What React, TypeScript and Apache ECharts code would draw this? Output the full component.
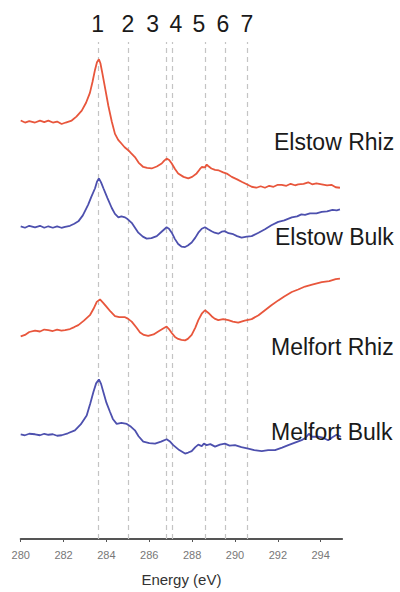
import React, { useEffect, useRef } from "react";
import * as echarts from "echarts";

// Energy (eV) and stacked intensity (arbitrary units, offset per spectrum)
const elstowRhizE = [280.0, 280.2, 280.4, 280.67, 280.9, 281.1, 281.29, 281.5, 281.7, 281.91, 282.1, 282.38, 282.6, 282.85, 283.05, 283.23, 283.35, 283.47, 283.56, 283.65, 283.72, 283.81, 283.95, 284.09, 284.25, 284.4, 284.55, 284.71, 284.85, 285.02, 285.15, 285.33, 285.5, 285.72, 285.9, 286.11, 286.35, 286.58, 286.7, 286.81, 286.93, 287.05, 287.2, 287.35, 287.6, 287.82, 288.0, 288.21, 288.35, 288.45, 288.6, 288.68, 288.75, 288.9, 289.07, 289.25, 289.45, 289.65, 289.85, 290.1, 290.31, 290.55, 290.78, 291.0, 291.2, 291.4, 291.6, 291.8, 292.0, 292.18, 292.4, 292.6, 292.8, 292.95, 293.2, 293.42, 293.6, 293.8, 294.05, 294.3, 294.5, 294.7, 294.9];
const elstowRhizI = [84.7, 84.3, 84.6, 84.3, 84.7, 84.4, 84.7, 84.3, 84.5, 84.0, 84.3, 84.7, 85.5, 86.7, 88.3, 90.3, 92.5, 95.0, 96.5, 97.1, 96.3, 94.3, 91.0, 87.7, 84.5, 82.0, 80.8, 80.0, 79.3, 78.7, 78.1, 77.3, 76.2, 75.3, 75.1, 75.0, 75.4, 76.0, 76.6, 77.0, 76.7, 76.0, 74.9, 74.0, 73.3, 73.0, 73.3, 74.0, 74.8, 75.3, 75.2, 75.8, 75.5, 75.0, 74.7, 74.6, 74.2, 73.9, 73.3, 72.8, 72.3, 71.8, 71.3, 71.1, 71.4, 71.1, 71.5, 71.3, 71.7, 71.7, 71.5, 71.9, 71.6, 71.8, 71.9, 72.2, 71.8, 72.0, 71.8, 71.6, 71.7, 71.2, 71.1];

const elstowBulkE = [280.0, 280.2, 280.4, 280.67, 280.9, 281.1, 281.29, 281.5, 281.7, 281.9, 282.07, 282.3, 282.5, 282.69, 282.9, 283.15, 283.3, 283.47, 283.56, 283.65, 283.75, 283.86, 284.05, 284.25, 284.4, 284.56, 284.7, 284.87, 285.0, 285.18, 285.35, 285.49, 285.7, 285.88, 286.1, 286.35, 286.6, 286.81, 286.92, 287.05, 287.2, 287.35, 287.5, 287.67, 287.8, 287.98, 288.15, 288.29, 288.45, 288.6, 288.75, 288.91, 289.05, 289.22, 289.38, 289.53, 289.7, 289.92, 290.1, 290.31, 290.55, 290.78, 291.1, 291.4, 291.7, 292.02, 292.3, 292.65, 292.9, 293.1, 293.27, 293.5, 293.8, 294.05, 294.3, 294.55, 294.75, 294.9];
const elstowBulkI = [63.3, 63.0, 63.4, 63.1, 63.4, 63.0, 63.3, 63.0, 63.3, 63.0, 63.2, 63.4, 63.8, 64.3, 65.5, 67.7, 69.3, 71.0, 72.3, 73.0, 72.2, 71.0, 69.0, 67.0, 65.8, 65.1, 65.3, 65.1, 64.7, 64.0, 62.9, 62.0, 61.2, 60.8, 60.9, 61.3, 62.3, 63.1, 62.8, 62.0, 60.7, 59.7, 59.2, 59.1, 59.4, 60.0, 61.0, 62.0, 62.8, 63.1, 62.7, 62.3, 62.0, 61.8, 62.2, 62.3, 61.9, 61.7, 61.3, 61.0, 61.2, 61.3, 62.0, 62.7, 63.5, 64.2, 64.5, 65.1, 65.3, 65.7, 65.6, 65.9, 65.9, 66.2, 66.3, 66.6, 66.5, 66.7];

const melfortRhizE = [280.0, 280.2, 280.4, 280.67, 280.9, 281.1, 281.29, 281.5, 281.7, 281.9, 282.07, 282.3, 282.5, 282.69, 282.95, 283.23, 283.4, 283.55, 283.7, 283.85, 284.01, 284.2, 284.4, 284.6, 284.87, 285.0, 285.18, 285.4, 285.57, 285.75, 285.95, 286.2, 286.42, 286.65, 286.81, 286.92, 287.05, 287.2, 287.35, 287.5, 287.67, 287.8, 287.98, 288.15, 288.29, 288.45, 288.6, 288.75, 288.91, 289.05, 289.22, 289.45, 289.69, 289.9, 290.15, 290.45, 290.78, 291.1, 291.4, 291.7, 292.02, 292.3, 292.65, 292.95, 293.27, 293.6, 294.05, 294.4, 294.7, 294.9];
const melfortRhizI = [41.0, 41.3, 41.9, 42.2, 42.0, 42.4, 42.3, 42.1, 42.4, 42.2, 42.3, 42.5, 42.9, 43.3, 44.2, 45.3, 46.6, 48.0, 48.5, 47.8, 47.0, 46.0, 45.1, 44.9, 44.9, 44.6, 44.0, 42.8, 41.8, 41.3, 41.1, 41.4, 42.0, 42.6, 43.0, 42.5, 41.7, 40.9, 40.5, 40.3, 40.2, 40.5, 41.3, 42.8, 44.3, 45.6, 46.3, 45.8, 45.1, 44.6, 44.3, 44.5, 44.3, 44.0, 43.8, 44.2, 44.5, 45.3, 46.3, 47.3, 48.3, 49.1, 50.0, 50.5, 51.1, 51.5, 52.0, 52.2, 52.6, 52.7];

const melfortBulkE = [280.0, 280.2, 280.4, 280.67, 280.9, 281.1, 281.29, 281.5, 281.7, 281.91, 282.2, 282.53, 282.8, 283.08, 283.25, 283.39, 283.52, 283.65, 283.75, 283.86, 284.0, 284.17, 284.3, 284.48, 284.7, 284.95, 285.15, 285.33, 285.5, 285.72, 286.0, 286.27, 286.55, 286.81, 286.95, 287.12, 287.4, 287.67, 287.82, 287.98, 288.15, 288.29, 288.45, 288.55, 288.68, 288.85, 289.07, 289.3, 289.53, 289.75, 290.0, 290.3, 290.62, 290.9, 291.25, 291.55, 291.87, 292.2, 292.49, 292.8, 293.11, 293.3, 293.45, 293.6, 293.89, 294.1, 294.35, 294.55, 294.74, 294.95];
const melfortBulkI = [21.2, 21.0, 21.3, 21.2, 21.0, 21.3, 21.1, 21.2, 20.9, 21.0, 21.4, 22.0, 23.2, 25.0, 27.5, 29.7, 31.5, 32.3, 31.4, 29.7, 27.6, 25.7, 24.3, 23.3, 23.5, 23.3, 22.7, 22.0, 20.8, 19.7, 19.4, 19.3, 19.7, 20.2, 19.8, 19.0, 18.0, 17.3, 17.5, 17.8, 18.6, 19.1, 18.8, 19.3, 19.0, 19.2, 18.7, 19.1, 19.3, 18.9, 19.0, 18.6, 18.3, 18.0, 17.8, 18.0, 18.0, 18.5, 19.0, 19.5, 20.0, 20.5, 21.3, 20.7, 20.7, 20.5, 20.0, 20.6, 21.1, 20.7];

const peakEnergies = [283.6, 285.0, 286.8, 287.05, 288.6, 289.55, 290.55];
const peakLabels = ["1", "2", "3", "4", "5", "6", "7"];
const sampleNames = ["Elstow Rhiz", "Elstow Bulk", "Melfort Rhiz", "Melfort Bulk"];

const RED = "#e8563c";
const BLUE = "#4d50ae";
const FONT = "'Liberation Sans', Arial, sans-serif";

function pairs(e: number[], v: number[]) {
  return e.map((x, i) => [x, v[i]]);
}

export default function App() {
  const ref = useRef<HTMLDivElement>(null);
  useEffect(() => {
    if (!ref.current) return;
    const chart = echarts.init(ref.current, null, { renderer: "svg" });
    const labelX = [97.7, 128, 152.7, 176, 199, 223, 247];
    const nameX = [274, 275, 271, 271];
    const nameY = [142, 237, 347, 432];
    const lineSeries = (name: string, data: number[][], color: string, extra: any = {}) => ({
      type: "line",
      name,
      data,
      showSymbol: false,
      symbol: "none",
      smooth: false,
      lineStyle: { color, width: 1.8 },
      z: 3,
      ...extra,
    });
    chart.setOption({
      animation: false,
      grid: { left: 20.7, right: 57.9, top: 42, bottom: 47 },
      xAxis: {
        type: "value",
        min: 280,
        max: 295,
        interval: 2,
        name: "Energy (eV)",
        nameLocation: "middle",
        nameGap: 33,
        nameTextStyle: { fontSize: 15, color: "#333", fontFamily: FONT },
        axisLine: { lineStyle: { color: "#555", width: 2 } },
        axisTick: { show: true, length: 3, lineStyle: { color: "#555" } },
        axisLabel: { fontSize: 11, color: "#777", fontFamily: FONT, margin: 10, showMaxLabel: false },
        splitLine: { show: false },
      },
      yAxis: {
        type: "value",
        min: 0,
        max: 100.6,
        show: false,
        splitLine: { show: false },
      },
      series: [
        lineSeries(sampleNames[0], pairs(elstowRhizE, elstowRhizI), RED, {
          markLine: {
            silent: true,
            symbol: "none",
            label: { show: false },
            lineStyle: { type: [5, 4], color: "#c4c4c4", width: 1.2 },
            data: peakEnergies.map((x) => ({ xAxis: x })),
            z: 1,
          },
        }),
        lineSeries(sampleNames[1], pairs(elstowBulkE, elstowBulkI), BLUE),
        lineSeries(sampleNames[2], pairs(melfortRhizE, melfortRhizI), RED),
        lineSeries(sampleNames[3], pairs(melfortBulkE, melfortBulkI), BLUE),
      ],
      graphic: [
        ...peakLabels.map((t, i) => ({
          type: "text",
          x: labelX[i],
          y: 24,
          z: 10,
          style: { text: t, fontSize: 23, fontFamily: FONT, fill: "#1a1a1a", align: "center", verticalAlign: "middle" },
        })),
        ...sampleNames.map((t, i) => ({
          type: "text",
          x: nameX[i],
          y: nameY[i],
          z: 10,
          style: { text: t, fontSize: 23, fontFamily: FONT, fill: "#1a1a1a", align: "left", verticalAlign: "middle" },
        })),
      ],
    });
    return () => chart.dispose();
  }, []);
  return <div ref={ref} style={{ position: "absolute", left: 0, top: 0, width: 400, height: 592 }} />;
}
